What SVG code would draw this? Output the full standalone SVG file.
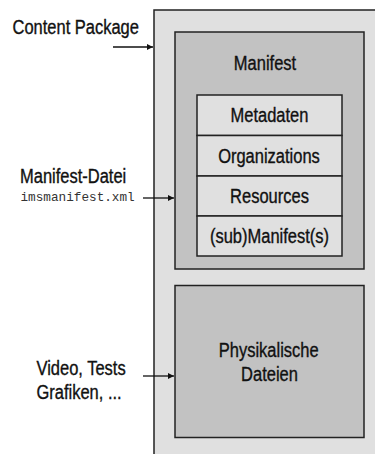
<svg xmlns="http://www.w3.org/2000/svg" width="375" height="454" viewBox="0 0 375 454">
<style>
.t{font-family:"Liberation Sans",Arial,sans-serif;font-size:16.5px;fill:#111;stroke:#111;stroke-width:0.3}
.c{text-anchor:middle}
.m{font-family:"Liberation Mono","Courier New",monospace;font-size:12.7px;fill:#333}
.box{stroke:#222;stroke-width:1.5}
.con{stroke:#111;stroke-width:1.3;fill:none}
</style>
<defs>
<marker id="ah" viewBox="0 0 8 8" refX="8" refY="4" markerWidth="5" markerHeight="5" orient="auto" markerUnits="strokeWidth">
<path d="M0,0 L8,4 L0,8 z" fill="#111"/>
</marker>
</defs>
<rect width="375" height="454" fill="#ffffff"/>
<g id="content-package">
<rect class="box" x="154" y="10" width="230" height="460" fill="#e0e0e0"/>
<text class="t" transform="translate(12.5,34) scale(1,1.17)">Content Package</text>
</g>
<g id="manifest">
<rect class="box" x="175" y="32" width="189" height="237" fill="#c2c2c2"/>
<text class="t c" transform="translate(265,69.5) scale(1,1.17)">Manifest</text>
</g>
<g id="metadaten">
<rect class="box" x="197" y="95" width="145" height="40.5" fill="#e0e0e0"/>
<text class="t c" transform="translate(269.5,121.5) scale(1,1.17)">Metadaten</text>
</g>
<g id="organizations">
<rect class="box" x="197" y="135.5" width="145" height="40.5" fill="#e0e0e0"/>
<text class="t c" transform="translate(269,162.5) scale(1,1.17)">Organizations</text>
</g>
<g id="resources">
<rect class="box" x="197" y="176" width="145" height="40" fill="#e0e0e0"/>
<text class="t c" transform="translate(269.5,202.5) scale(1,1.17)">Resources</text>
</g>
<g id="submanifest">
<rect class="box" x="197" y="216" width="145" height="40" fill="#e0e0e0"/>
<text class="t c" transform="translate(269.5,243) scale(1,1.17)">(sub)Manifest(s)</text>
</g>
<g id="physikalische-dateien">
<rect class="box" x="175" y="285.5" width="189" height="152" fill="#c2c2c2"/>
<text class="t c" transform="translate(268.7,357) scale(1,1.17)">Physikalische</text>
<text class="t c" transform="translate(269.5,380.5) scale(1,1.17)">Dateien</text>
</g>
<g id="manifest-datei-label">
<text class="t" transform="translate(20,183) scale(1,1.17)">Manifest-Datei</text>
<text class="m" x="20.5" y="200.5">imsmanifest.xml</text>
</g>
<g id="video-label">
<text class="t" transform="translate(36.5,375) scale(1,1.17)">Video, Tests</text>
<text class="t" transform="translate(36.5,399) scale(1,1.17)">Grafiken, ...</text>
</g>
<g id="connectors">
<line class="con" x1="113" y1="47" x2="153" y2="47" marker-end="url(#ah)"/>
<line class="con" x1="143" y1="198" x2="174" y2="198" marker-end="url(#ah)"/>
<line class="con" x1="143" y1="376" x2="174" y2="376" marker-end="url(#ah)"/>
</g>
</svg>
